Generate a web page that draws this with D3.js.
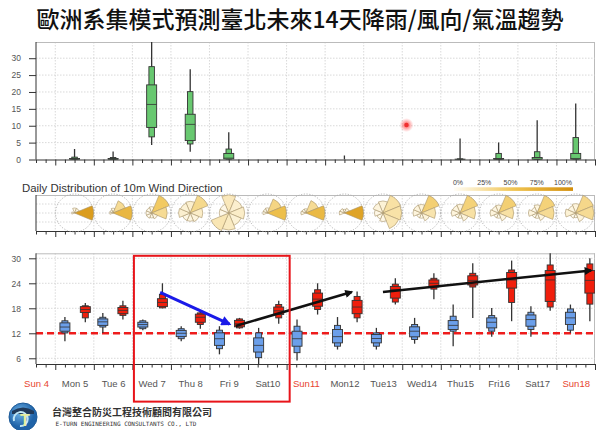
<!DOCTYPE html>
<html><head><meta charset="utf-8">
<script src="https://cdn.jsdelivr.net/npm/d3@7"></script>
<style>
body{margin:0;background:#fff;}
svg{display:block;font-family:"Liberation Sans",Arial,sans-serif;}
</style></head><body>
<svg id="c" width="600" height="430"></svg>
<script>
// ---------------- DATA ----------------
const titleText = "歐洲系集模式預測臺北未來14天降雨/風向/氣溫趨勢";
const windTitle = "Daily Distribution of 10m Wind Direction";
const dayLabels = ["Sun 4","Mon 5","Tue 6","Wed 7","Thu 8","Fri 9","Sat10","Sun11","Mon12","Tue13","Wed14","Thu15","Fri16","Sat17","Sun18"];
const isSunday = [true,false,false,false,false,false,false,true,false,false,false,false,false,false,true];
const dataDays = [1,2,3,4,5,6,7,8,9,10,11,12,13,14]; // Mon5 .. Sun18 (days after Sun 4 00:00)
const rainTicks = [0,5,10,15,20,25,30];
const tempTicks = [6,12,18,24,30];
const legendTicks = ["0%","25%","50%","75%","100%"];

// Rain (mm) ensemble distribution per day
const rainMin = [0,0,4.3,2.3,0,0,0,0,0,0,0,0,0,0];
const rainP10 = [0,0,6.7,4.6,0,0,0,0,0,0,0,0,0,0];
const rainP25 = [0,0,9.5,5.6,0.1,0,0,0,0,0,0,0,0,0];
const rainMed = [0.1,0.1,16.3,10.4,0.4,0,0,0,0,0,0,0,0.1,0.3];
const rainP75 = [0.3,0.3,22.1,13.4,1.8,0,0,0,0,0,0.1,0.3,0.6,1.8];
const rainP90 = [0.7,0.6,27.5,20.1,3.1,0,0,0,0,0,0.2,1.8,2.3,6.5];
const rainMax = [3.1,2.4,40,26.7,8.1,0,0,1.2,0,0,6.2,5.0,11.6,16.6];

// Wind direction frequency per day (fractions)
const windN  = [0.06,0.04,0.05,0.12,0.18,0.04,0.03,0.03,0.10,0.08,0.08,0.07,0.07,0.08];
const windNE = [0.06,0.30,0.45,0.32,0.12,0.35,0.30,0.06,0.25,0.40,0.38,0.40,0.38,0.33];
const windE  = [0.86,0.62,0.30,0.14,0.14,0.55,0.60,0.80,0.24,0.22,0.25,0.25,0.30,0.30];
const windSE = [0,0,0.05,0.08,0.10,0,0,0,0.20,0.08,0.08,0.08,0.07,0.08];
const windS  = [0,0,0.03,0.06,0.16,0,0,0,0.05,0.03,0.03,0.03,0.03,0.02];
const windSW = [0,0,0.04,0.06,0.20,0,0,0,0.03,0.03,0.03,0.03,0.03,0.03];
const windW  = [0.02,0.02,0.04,0.12,0.05,0.03,0.04,0.06,0.05,0.08,0.08,0.08,0.08,0.10];
const windNW = [0,0.02,0.04,0.10,0.05,0.03,0.03,0.05,0.08,0.08,0.07,0.06,0.04,0.06];

// Min temperature (blue) distribution, and hour of the day it is plotted at
const tminHour = [6.0,5.6,6.5,6.4,6.2,6.6,6.5,7.7,7.9,7.7,7.7,7.7,8.1,8.7];
const tminMin = [10.1,12.1,12.75,10.1,6.95,4.6,5.5,8.1,8.1,9.5,8.9,11.2,11.2,12.1];
const tminP10 = [12.1,13.5,13.1,10.7,8.3,6.15,7.35,8.9,8.9,10.5,12.5,12.5,12.9,12.75];
const tminP25 = [12.5,13.9,13.5,11.2,9.1,7.5,8.9,9.7,9.7,11.15,12.9,13.3,13.7,14.1];
const tminMed = [13.5,14.75,14.1,12.0,10.7,9.1,10.7,11.2,10.75,12.5,13.9,14.65,15.3,15.7];
const tminP75 = [14.5,15.45,14.65,12.7,12.1,10.9,12.5,12.9,11.7,13.55,15.05,15.7,16.4,17.05];
const tminP90 = [15.0,15.85,15.0,13.1,12.75,12.1,13.7,13.9,12.1,14.1,16.1,16.25,17.05,17.85];
const tminMax = [15.9,16.9,15.3,13.7,13.7,13.3,15.3,15.9,13.3,15.7,18.9,18.1,18.5,18.9];

// Max temperature (red) distribution
const tmaxHour = [18.7,18.1,18.7,18.3,18.7,19.1,19.3,19.9,19.7,19.7,19.9,20.1,20.1,20.8];
const tmaxMin = [14.65,15.3,18.0,13.1,13.1,14.3,16.5,14.65,18.9,20.2,15.7,14.9,17.4,14.9];
const tmaxP10 = [15.7,16.3,18.1,14.1,13.3,15.7,17.7,15.7,19.5,22.6,23.1,19.4,18.3,19.0];
const tmaxP25 = [17.0,16.7,18.4,14.65,13.55,16.5,18.5,16.7,20.45,23.1,23.6,22.85,19.65,21.65];
const tmaxMed = [17.7,17.5,19.4,15.85,14.3,17.4,20.2,18.3,22.45,24.0,24.7,24.8,24.8,24.7];
const tmaxP75 = [18.4,18.2,20.3,16.6,15.1,18.3,21.65,19.9,23.25,24.8,25.8,26.6,27.05,27.05];
const tmaxP90 = [18.6,18.6,21.3,16.9,15.45,18.9,22.45,20.85,23.8,25.2,26.4,27.2,28.4,28.65];
const tmaxMax = [19.3,19.8,24.0,17.4,15.7,19.8,24.0,22.05,25.2,26.4,28.8,29.45,31.5,30.0];

const refTemp = 12;
// Annotations in data units: [day, value]
const blueArrow = [[3.72,21.8],[5.52,14.2]];
const blackArrows = [[[5.68,13.75],[8.69,21.9]], [[9.5,21.9],[14.9,27.1]]];
const highlightBox = [[3.04,30.6],[7.08,-4.4]];
const cursorDot = [10.11,10.2];

// ---------------- LAYOUT ----------------
const svg = d3.select("#c");
const L = 36, R = 595;
const x = d3.scaleLinear().domain([0.5,15]).range([L,R]);
const rainTop = 42, rainBot = 159.5;
const windTop = 195, windBot = 231;
const tempTop = 253.3, tempBot = 364;
const yR = d3.scaleLinear().domain([0,34.8]).range([rainBot,rainTop]);
const yT = d3.scaleLinear().domain([4.63,31.2]).range([tempBot,tempTop]);

const defs = svg.append("defs");
[["clipRain",rainTop,rainBot],["clipTemp",tempTop,tempBot]].forEach(([id,t,b])=>{
  defs.append("clipPath").attr("id",id).append("rect").attr("x",L).attr("y",t).attr("width",R-L).attr("height",b-t);
});
function marker(id,color,w,h){
  defs.append("marker").attr("id",id).attr("viewBox","0 0 10 10").attr("refX",8).attr("refY",5)
    .attr("markerWidth",w).attr("markerHeight",h).attr("markerUnits","userSpaceOnUse").attr("orient","auto")
    .append("path").attr("d","M0,0 L10,5 L0,10 z").attr("fill",color);
}
marker("ahBlue","#1a1ae8",11,10);
marker("ahBlack","#111",10,8);
const glow = defs.append("radialGradient").attr("id","glow");
glow.append("stop").attr("offset","0%").attr("stop-color","#ff3030").attr("stop-opacity",0.9);
glow.append("stop").attr("offset","100%").attr("stop-color","#ff6060").attr("stop-opacity",0);
const lg = defs.append("linearGradient").attr("id","legGrad");
lg.append("stop").attr("offset","0%").attr("stop-color","#fffdf6");
lg.append("stop").attr("offset","50%").attr("stop-color","#f0c452");
lg.append("stop").attr("offset","100%").attr("stop-color","#d38e0a");
const logoGrad = defs.append("radialGradient").attr("id","logoGrad").attr("cx","40%").attr("cy","35%");
logoGrad.append("stop").attr("offset","0%").attr("stop-color","#6fb3e8");
logoGrad.append("stop").attr("offset","100%").attr("stop-color","#1f63a8");
const windColor = d3.scaleLinear().domain([0,0.5,1]).range(["#fffdf6","#f0c452","#d38e0a"]);

// Title
svg.append("text").attr("x",300).attr("y",28).attr("text-anchor","middle")
  .style("font-family","'Noto Sans CJK TC','Noto Sans CJK SC',sans-serif").style("font-size","23px").style("font-weight",500)
  .attr("fill","#111").text(titleText);

const majorTicks = d3.range(1,16);
const minorTicks = d3.range(0.5,15,0.25).filter(d=>d%1!==0);

function frame(top,bot){
  const g = svg.append("g");
  g.selectAll("line.vg").data(d3.range(1,15)).join("line")
    .attr("x1",d=>x(d)).attr("x2",d=>x(d)).attr("y1",top).attr("y2",bot)
    .attr("stroke","#cfcfcf").attr("stroke-dasharray","1.5,1.5").attr("stroke-width",0.8);
  g.append("line").attr("x1",L).attr("x2",R).attr("y1",top+0.5).attr("y2",top+0.5).attr("stroke","#bbb");
  g.append("line").attr("x1",R-0.5).attr("x2",R-0.5).attr("y1",top).attr("y2",bot).attr("stroke","#bbb");
  return g;
}
function hgrid(vals,scale){
  svg.append("g").selectAll("line").data(vals).join("line")
    .attr("x1",L).attr("x2",R).attr("y1",d=>scale(d)).attr("y2",d=>scale(d))
    .attr("stroke","#cfcfcf").attr("stroke-dasharray","1.5,1.5").attr("stroke-width",0.8);
}
function xAxis(yPos,labels){
  const g = svg.append("g").attr("transform",`translate(0,${yPos})`);
  g.append("g").call(d3.axisBottom(x).tickValues(minorTicks).tickSize(3.5).tickFormat("")).call(s=>s.select(".domain").remove());
  g.append("g").call(d3.axisBottom(x).tickValues(majorTicks).tickSize(6).tickSizeOuter(0).tickFormat(""));
  g.selectAll("line").attr("stroke","#333");
  g.selectAll(".domain").attr("stroke","#333");
  if(labels){
    const lg2 = g.append("g").call(d3.axisBottom(x).tickValues(d3.range(15).map(i=>i+0.5)).tickSize(0).tickPadding(16.5)
      .tickFormat(d=>dayLabels[Math.floor(d)]));
    lg2.select(".domain").remove();
    lg2.selectAll("text").style("font-size","9.5px").style("font-family","'Liberation Sans',Arial,sans-serif")
      .attr("fill",d=>isSunday[Math.floor(d)]?"#e8452e":"#555");
  }
}
function yAxis(scale,ticks,top,bot){
  const g = svg.append("g").attr("transform",`translate(${L},0)`)
    .call(d3.axisLeft(scale).tickValues(ticks).tickSize(7).tickPadding(8).tickSizeOuter(0));
  g.select(".domain").attr("stroke","#333").attr("d",`M0,${top}V${bot}`);
  g.selectAll("line").attr("stroke","#333");
  g.selectAll("text").style("font-size","8.5px").attr("fill","#555");
}

function boxes(parent,xs,mn,p10,p25,md,p75,p90,mx,fill,yS,wW,wN){
  const g = parent.append("g");
  xs.forEach((xv,i)=>{
    if(mx[i]===0 && mn[i]===0) return;
    const cx = x(xv);
    if(mx[i]>mn[i]) g.append("line").attr("x1",cx).attr("x2",cx).attr("y1",yS(mn[i])).attr("y2",yS(mx[i]))
      .attr("stroke","#333").attr("stroke-width",1.3);
    if(p90[i]>p10[i]) g.append("rect").attr("x",cx-wN/2).attr("width",wN).attr("y",yS(p90[i])).attr("height",yS(p10[i])-yS(p90[i]))
      .attr("fill",fill).attr("stroke","#333").attr("stroke-width",0.9);
    if(p75[i]>p25[i]) g.append("rect").attr("x",cx-wW/2).attr("width",wW).attr("y",yS(p75[i])).attr("height",yS(p25[i])-yS(p75[i]))
      .attr("fill",fill).attr("stroke","#333").attr("stroke-width",0.9);
    if(p75[i]>p25[i]) g.append("line").attr("x1",cx-wW/2).attr("x2",cx+wW/2).attr("y1",yS(md[i])).attr("y2",yS(md[i]))
      .attr("stroke","#333").attr("stroke-width",0.8);
  });
  return g;
}

// ---------------- RAIN PANEL ----------------
frame(rainTop,rainBot);
hgrid(rainTicks.filter(d=>d>0),yR);
const rainG = svg.append("g").attr("clip-path","url(#clipRain)");
boxes(rainG,dataDays.map(d=>d+0.5),rainMin,rainP10,rainP25,rainMed,rainP75,rainP90,rainMax,"#68c870",yR,10,5.5);
yAxis(yR,rainTicks,rainTop,rainBot);
xAxis(rainBot,false);
svg.append("circle").attr("cx",x(cursorDot[0])).attr("cy",yR(cursorDot[1])).attr("r",7).attr("fill","url(#glow)");
svg.append("circle").attr("cx",x(cursorDot[0])).attr("cy",yR(cursorDot[1])).attr("r",2.2).attr("fill","#f03030");

// ---------------- WIND PANEL ----------------
svg.append("text").attr("x",22).attr("y",191.5).style("font-size","11.4px").attr("fill","#333").text(windTitle);
frame(windTop,windBot);
svg.append("g").selectAll("line").data([0.25,0.5,0.75]).join("line")
  .attr("x1",L).attr("x2",R).attr("y1",d=>windTop+(windBot-windTop)*d).attr("y2",d=>windTop+(windBot-windTop)*d)
  .attr("stroke","#cfcfcf").attr("stroke-dasharray","1.5,1.5").attr("stroke-width",0.8);
svg.append("line").attr("x1",L).attr("x2",L).attr("y1",windTop).attr("y2",windBot).attr("stroke","#333");
xAxis(windBot,false);
const windDirs = [windN,windNE,windE,windSE,windS,windSW,windW,windNW];
const cyW = (windTop+windBot)/2;
const Rw = 19;
const arc = d3.arc().innerRadius(0);
dataDays.forEach((d,i)=>{
  const g = svg.append("g").attr("transform",`translate(${x(d+0.5)},${cyW})`);
  g.append("circle").attr("r",Rw).attr("fill","none").attr("stroke","#aaa").attr("stroke-width",0.9).attr("stroke-dasharray","1.2,1.6");
  const vals = windDirs.map(a=>a[i]);
  const pmax = d3.max(vals);
  vals.forEach((p,k)=>{
    if(p<=0) return;
    const a0 = (k*45-22.5)*Math.PI/180, a1 = (k*45+22.5)*Math.PI/180;
    g.append("path").attr("d",arc({outerRadius:Rw*Math.sqrt(p/pmax),startAngle:a0,endAngle:a1}))
      .attr("fill",windColor(p)).attr("stroke","#a8946a").attr("stroke-width",0.6);
  });
});
// legend
const legX = d3.scaleLinear().domain([0,100]).range([458,563]);
svg.append("rect").attr("x",454).attr("y",187.3).attr("width",119).attr("height",3.6).attr("fill","url(#legGrad)");
svg.append("g").selectAll("text").data(legendTicks).join("text")
  .attr("x",(d,i)=>legX(i*25)).attr("y",185).attr("text-anchor","middle").style("font-size","7px").attr("fill","#444").text(d=>d);

// ---------------- TEMPERATURE PANEL ----------------
frame(tempTop,tempBot);
hgrid(tempTicks,yT);
const tempG = svg.append("g").attr("clip-path","url(#clipTemp)");
tempG.append("line").attr("x1",L).attr("x2",R).attr("y1",yT(refTemp)).attr("y2",yT(refTemp))
  .attr("stroke","#ee1c1c").attr("stroke-width",2.6).attr("stroke-dasharray","7,4");
boxes(tempG,dataDays.map((d,i)=>d+tminHour[i]/24),tminMin,tminP10,tminP25,tminMed,tminP75,tminP90,tminMax,"#6b9fea",yT,10,6);
boxes(tempG,dataDays.map((d,i)=>d+tmaxHour[i]/24),tmaxMin,tmaxP10,tmaxP25,tmaxMed,tmaxP75,tmaxP90,tmaxMax,"#f01e0c",yT,10,6);
yAxis(yT,tempTicks,tempTop,tempBot);
xAxis(tempBot,true);

// annotations
svg.append("line").attr("x1",x(blueArrow[0][0])).attr("y1",yT(blueArrow[0][1]))
  .attr("x2",x(blueArrow[1][0])).attr("y2",yT(blueArrow[1][1]))
  .attr("stroke","#1a1ae8").attr("stroke-width",3).attr("marker-end","url(#ahBlue)");
blackArrows.forEach(a=>{
  svg.append("line").attr("x1",x(a[0][0])).attr("y1",yT(a[0][1])).attr("x2",x(a[1][0])).attr("y2",yT(a[1][1]))
    .attr("stroke","#111").attr("stroke-width",2.5).attr("marker-end","url(#ahBlack)");
});
svg.append("rect").attr("x",x(highlightBox[0][0])).attr("y",yT(highlightBox[0][1]))
  .attr("width",x(highlightBox[1][0])-x(highlightBox[0][0])).attr("height",yT(highlightBox[1][1])-yT(highlightBox[0][1]))
  .attr("fill","none").attr("stroke","#e8141a").attr("stroke-width",2);

// ---------------- LOGO ----------------
const logo = svg.append("g").attr("transform","translate(23,417)");
logo.append("circle").attr("r",14).attr("fill","url(#logoGrad)").attr("stroke","#1d5a98").attr("stroke-width",1);
logo.append("path").attr("d","M-11,-6 Q0,-13 11,-6 L11,-3 L-11,-3 Z").attr("fill","#203a5a");
logo.append("path").attr("d","M-9,4 A7,7 0 1 1 -3,9").attr("fill","none").attr("stroke","#bfe6f6").attr("stroke-width",2);
logo.append("text").attr("x",2).attr("y",9).attr("text-anchor","middle").style("font-size","16px").style("font-weight","bold")
  .attr("fill","#e8f0a0").text("T");
svg.append("text").attr("x",52).attr("y",416).style("font-family","'Noto Sans CJK TC',sans-serif").style("font-size","10px")
  .style("font-weight","bold").attr("fill","#333").text("台灣整合防災工程技術顧問有限公司");
svg.append("text").attr("x",55.5).attr("y",426).style("font-family","'DejaVu Sans Mono',monospace").style("font-size","6px")
  .attr("fill","#333").text("E-TURN ENGINEERING CONSULTANTS CO., LTD");
</script>
</body></html>
